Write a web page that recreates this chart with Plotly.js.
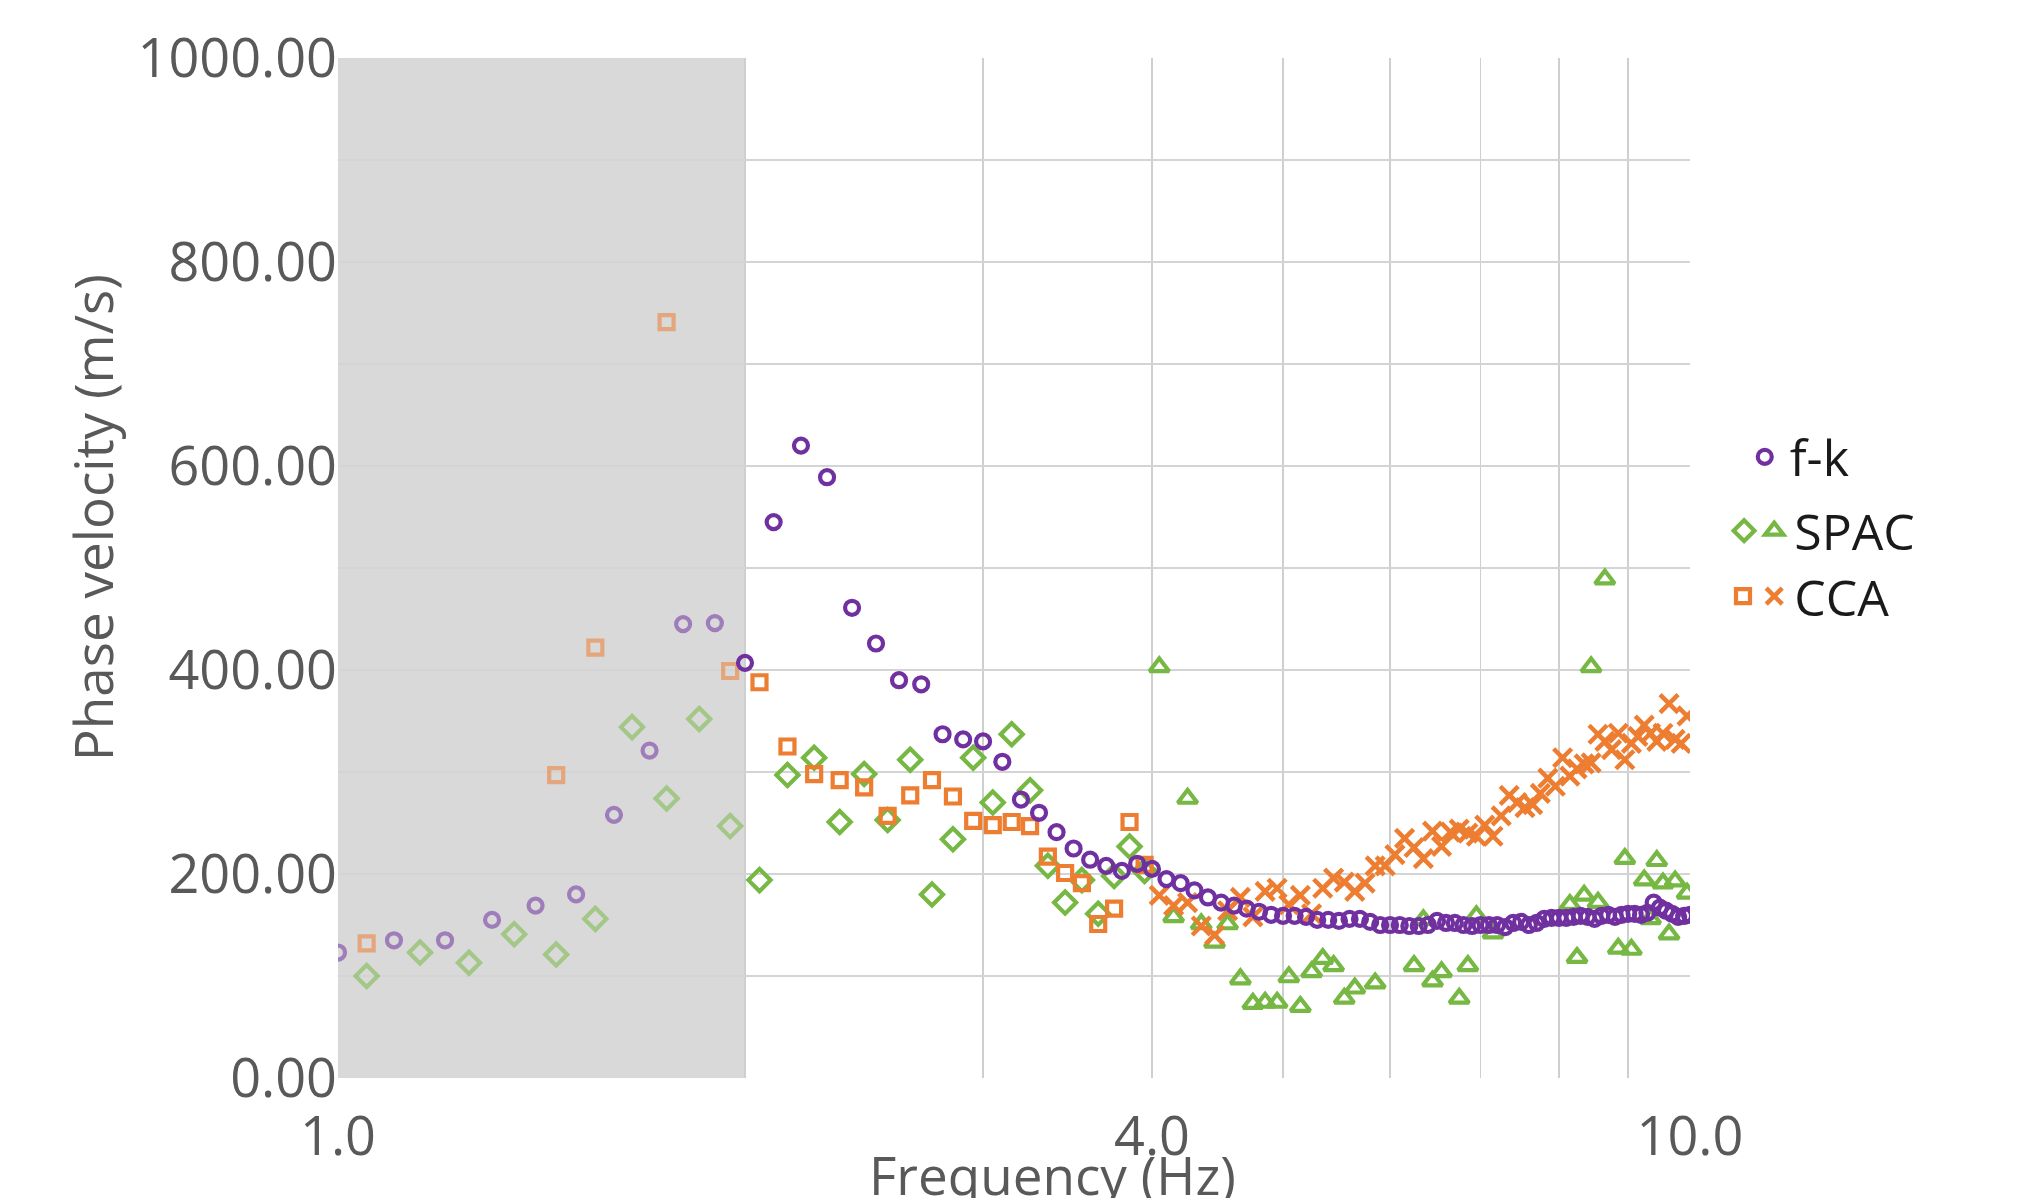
<!DOCTYPE html>
<html><head><meta charset="utf-8">
<script src="https://cdn.plot.ly/plotly-3.0.1.min.js"></script>
<style>html,body{margin:0;padding:0;background:#fff}#chart{width:2018px;height:1198px}</style>
</head><body><div id="chart"></div>
<script>
// ---- data ----
const fkFreq = [1.0,1.1,1.2,1.3,1.4,1.5,1.6,1.7,1.8,1.9,
  2.0,2.1,2.2,2.3,2.4,2.5,2.6,2.7,2.8,2.9,
  3.0,3.1,3.2,3.3,3.4,3.5,3.6,3.7,3.8,3.9,
  4.0,4.1,4.2,4.3,4.4,4.5,4.6,4.7,4.8,4.9,
  5.0,5.1,5.2,5.3,5.4,5.5,5.6,5.7,5.8,5.9,
  6.0,6.1,6.2,6.3,6.4,6.5,6.6,6.7,6.8,6.9,
  7.0,7.1,7.2,7.3,7.4,7.5,7.6,7.7,7.8,7.9,
  8.0,8.1,8.2,8.3,8.4,8.5,8.6,8.7,8.8,8.9,
  9.0,9.1,9.2,9.3,9.4,9.5,9.6,9.7,9.8,9.9,10.0];
const fkVel = [123,135,135,155,169,180,258,321,445,446,
  407,545,620,589,461,426,390,386,337,332,
  330,310,273,260,241,225,214,208,203,210,
  205,195,191,184,177,172,169,166,163,160,
  159,159,158,155,155,154,156,156,153,150,
  150,150,149,149,150,154,152,152,150,149,
  150,150,150,148,152,153,150,152,156,157,
  157,157,158,159,158,156,159,160,158,160,
  161,161,160,162,172,167,164,161,158,159,160];

const spacDiamondFreq = [1.05,1.15,1.25,1.35,1.45,1.55,1.65,1.75,1.85,1.95,
  2.05,2.15,2.25,2.35,2.45,2.55,2.65,2.75,2.85,2.95,
  3.05,3.15,3.25,3.35,3.45,3.55,3.65,3.75,3.85,3.95];
const spacDiamondVel = [100,123,113,141,121,156,344,274,352,247,
  194,297,314,251,298,253,312,180,234,314,
  270,337,282,208,172,194,161,198,227,203];

const spacTriangleFreq = [4.05,4.15,4.25,4.35,4.45,4.55,4.65,4.75,4.85,4.95,
  5.05,5.15,5.25,5.35,5.45,5.55,5.65,5.85,6.25,6.35,
  6.45,6.55,6.75,6.85,6.95,7.15,8.15,8.25,8.35,8.45,
  8.55,8.65,8.85,8.95,9.05,9.25,9.35,9.45,9.55,9.65,9.75,9.95];
const spacTriangleVel = [403,158,274,151,133,151,97,73,74,74,
  99,70,104,117,110,78,88,93,110,155,
  95,104,78,110,159,142,170,118,179,403,
  172,489,127,215,126,194,156,213,191,141,193,181];

const ccaSquareFreq = [1.05,1.45,1.55,1.75,1.95,
  2.05,2.15,2.25,2.35,2.45,2.55,2.65,2.75,2.85,2.95,
  3.05,3.15,3.25,3.35,3.45,3.55,3.65,3.75,3.85,3.95];
const ccaSquareVel = [132,297,422,741,399,
  388,325,298,292,285,257,277,292,276,252,
  248,251,247,217,201,191,151,166,251,209];

const ccaCrossFreq = [4.05,4.15,4.25,4.35,4.45,4.55,4.65,4.75,4.85,4.95,
  5.05,5.15,5.25,5.35,5.45,5.55,5.65,5.75,5.85,5.95,
  6.05,6.15,6.25,6.35,6.45,6.55,6.65,6.75,6.85,6.95,
  7.05,7.15,7.25,7.35,7.45,7.55,7.65,7.75,7.85,7.95,
  8.05,8.15,8.25,8.35,8.45,8.55,8.65,8.75,8.85,8.95,
  9.05,9.15,9.25,9.35,9.45,9.55,9.65,9.75,9.85,9.95];
const ccaCrossVel = [179,169,172,149,140,164,177,158,183,186,
  170,179,161,186,196,192,183,191,208,208,
  219,235,226,215,242,227,241,244,240,237,
  248,237,257,277,270,265,268,279,294,286,
  314,296,303,308,309,337,330,322,338,312,
  328,335,346,338,330,338,367,332,328,355];

const xTickVals = [1,2,3,4,5,6,7,8,9,10];
const xTickText = ['1.0','','','4.0','','','','','','10.0'];
const yTickVals = [0,100,200,300,400,500,600,700,800,900,1000];
const yTickText = ['0.00','','200.00','','400.00','','600.00','','800.00','','1000.00'];
const shadedBand = [1, 2];   // frequency band drawn in grey

// ---- styling ----
const PURPLE = '#7030A0', GREEN = '#76B843', ORANGE = '#ED7D31';
const FONT = 'Open Sans, Liberation Sans, sans-serif';
const AXIS_GREY = '#595959';

function keptIdx(freqs) {            // points outside the grey band stay fully opaque
  const idx = [];
  freqs.forEach((f, i) => { if (f >= shadedBand[1] - 0.01) idx.push(i); });
  return idx;
}
function trace(x, y, name, symbol, size, color, legend, lw) {
  return {
    type: 'scatter', mode: 'markers', x: x, y: y, name: name, legend: legend,
    marker: {symbol: symbol, size: size, color: color, line: {color: color, width: lw}},
    selectedpoints: keptIdx(x),
    selected: {marker: {opacity: 1}},
    unselected: {marker: {opacity: 0.55}},
    hoverinfo: 'x+y+name'
  };
}

const data = [
  trace(spacDiamondFreq, spacDiamondVel, '', 'diamond-open', 17, GREEN, 'legend2', 4.2),
  trace(spacTriangleFreq, spacTriangleVel, 'SPAC', 'triangle-up-open', 17, GREEN, 'legend3', 4.2),
  trace(ccaSquareFreq, ccaSquareVel, '', 'square-open', 14, ORANGE, 'legend4', 4.2),
  trace(ccaCrossFreq, ccaCrossVel, 'CCA', 'x-thin-open', 18, ORANGE, 'legend5', 4.5),
  trace(fkFreq, fkVel, 'f-k', 'circle-open', 14, PURPLE, 'legend', 4.2)
];

function legendAt(x, y, iw) {
  return {x: x, y: y, xanchor: 'left', yanchor: 'middle', bgcolor: 'rgba(0,0,0,0)',
    borderwidth: 0, itemwidth: iw || 30, itemclick: false, itemdoubleclick: false,
    font: {family: FONT, size: 50, color: '#1a1a1a'}};
}

const layout = {
  width: 2018, height: 1198,
  paper_bgcolor: '#ffffff', plot_bgcolor: '#ffffff',
  margin: {l: 338, r: 328, t: 58, b: 120, pad: 0},
  showlegend: true,
  legend: legendAt(1.0368, 0.609, 40),
  legend2: legendAt(1.0252, 0.5366),
  legend3: legendAt(1.0475, 0.5366),
  legend4: legendAt(1.0244, 0.4725),
  legend5: legendAt(1.0475, 0.4725),
  xaxis: {
    type: 'log', range: [0, 1],
    tickmode: 'array', tickvals: xTickVals, ticktext: xTickText,
    showgrid: true, gridcolor: '#cfcfcf', gridwidth: 1.5,
    zeroline: false, showline: false, ticks: '',
    ticklabelstandoff: 22,
    tickfont: {family: FONT, size: 54, color: AXIS_GREY}
  },
  yaxis: {
    range: [0, 1000],
    tickmode: 'array', tickvals: yTickVals, ticktext: yTickText,
    showgrid: true, gridcolor: '#d4d4d4', gridwidth: 1.5,
    zeroline: false, showline: false, ticks: '',
    ticklabelstandoff: 0,
    tickfont: {family: FONT, size: 54, color: AXIS_GREY}
  },
  shapes: [{
    type: 'rect', xref: 'x', yref: 'paper', x0: shadedBand[0], x1: shadedBand[1], y0: 0, y1: 1,
    fillcolor: '#d9d9d9', line: {width: 0}, layer: 'below'
  }],
  annotations: [
    {text: 'Frequency (Hz)', xref: 'paper', yref: 'paper', x: 0.5287, y: -0.0945,
     xanchor: 'center', yanchor: 'middle', showarrow: false,
     font: {family: FONT, size: 53, color: AXIS_GREY}},
    {text: 'Phase velocity (m/s)', xref: 'paper', yref: 'paper', x: -0.1817, y: 0.5492,
     xanchor: 'center', yanchor: 'middle', textangle: -90, showarrow: false,
     font: {family: FONT, size: 53, color: AXIS_GREY}}
  ]
};

Plotly.newPlot('chart', data, layout, {staticPlot: true, displayModeBar: false});
</script></body></html>
